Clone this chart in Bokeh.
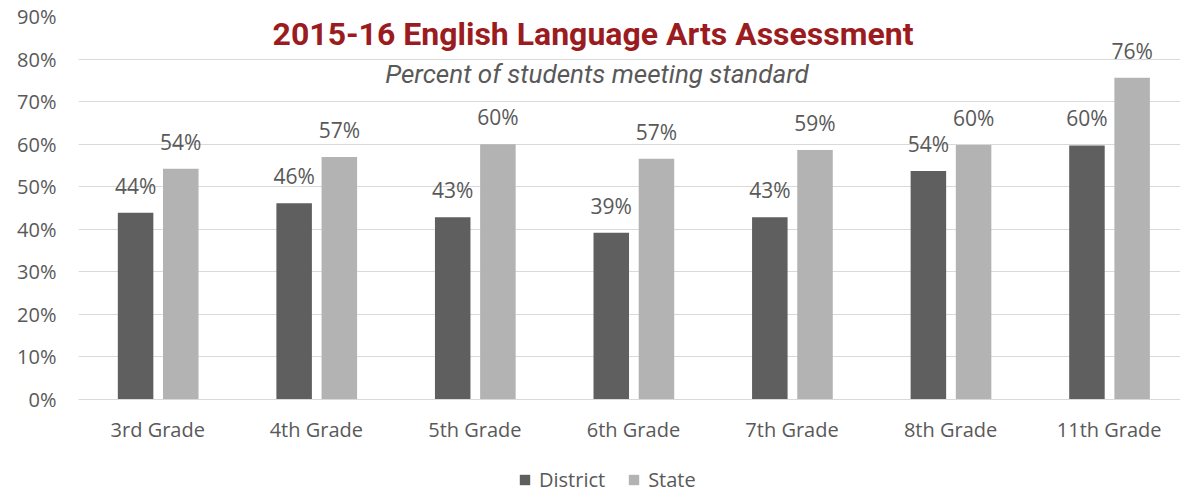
import numpy as np
from bokeh.plotting import figure
from bokeh.layouts import column
from bokeh.models import (ColumnDataSource, Range1d, FixedTicker, Label, Legend,
                          LegendItem)
from bokeh.transform import dodge
from bokeh.core.properties import value
from bokeh.embed import file_html
from bokeh.resources import INLINE

# ---- data ----
grades = ["3rd Grade", "4th Grade", "5th Grade", "6th Grade", "7th Grade", "8th Grade", "11th Grade"]
district = [43.9, 46.1, 42.8, 39.2, 42.8, 53.7, 59.7]
state = [54.2, 57.0, 60.0, 56.6, 58.6, 59.8, 75.6]
series_names = ["District", "State"]
y_ticks = [0, 10, 20, 30, 40, 50, 60, 70, 80, 90]
y_tick_labels = [f"{t}%" for t in y_ticks]
title_text = "2015-16  English Language Arts Assessment"
subtitle_text = "Percent of students meeting standard"

# ---- styles ----
C_DIST = "#5f5f5f"
C_STATE = "#b3b3b3"
C_TEXT = "#595959"
C_GRID = "#d9d9d9"
C_TITLE = "#9b1c20"
FONT = "Open Sans"

xpos = [i + 0.5 for i in range(len(grades))]
src = ColumnDataSource(dict(
    x=xpos,
    grade=grades,
    district=district,
    state=state,
    dlab=[f"{v:.0f}%" for v in district],
    slab=[f"{v:.0f}%" for v in state],
))

MAIN_H = 458
p = figure(width=1180, height=MAIN_H, output_backend="svg", toolbar_location=None,
           x_range=Range1d(0, 6.95), y_range=Range1d(0, 90),
           min_border_left=78, min_border_right=0, min_border_top=16,
           min_border_bottom=MAIN_H - 399)
p.outline_line_color = None
p.background_fill_color = "white"
p.border_fill_color = "white"

bw = 0.224
r_d = p.vbar(x=dodge("x", -0.14, range=p.x_range), top="district", width=bw, bottom=0,
             source=src, fill_color=C_DIST, line_color=None)
r_s = p.vbar(x=dodge("x", 0.145, range=p.x_range), top="state", width=bw, bottom=0,
             source=src, fill_color=C_STATE, line_color=None)

for col, lab, off in (("district", "dlab", -0.14), ("state", "slab", 0.145)):
    p.text(x=dodge("x", off, range=p.x_range), y=col, text=lab, source=src,
           y_offset=-27, text_align="center", text_baseline="alphabetic",
           text_font=value(FONT), text_font_size="21px", text_color=C_TEXT)

# axes
p.xaxis.ticker = FixedTicker(ticks=xpos)
p.xaxis.major_label_overrides = {x: g for x, g in zip(xpos, grades)}
p.xaxis.axis_line_color = C_GRID
p.xaxis.major_tick_line_color = None
p.xaxis.minor_tick_line_color = None
p.xaxis.major_label_standoff = 10
p.xaxis.major_label_text_font = FONT
p.xaxis.major_label_text_font_size = "20px"
p.xaxis.major_label_text_color = C_TEXT

p.yaxis.ticker = FixedTicker(ticks=y_ticks)
p.yaxis.major_label_overrides = {t: l for t, l in zip(y_ticks, y_tick_labels)}
p.yaxis.axis_line_color = None
p.yaxis.major_tick_line_color = None
p.yaxis.minor_tick_line_color = None
p.yaxis.major_tick_out = 0
p.yaxis.major_tick_in = 0
p.yaxis.major_label_standoff = 22
p.yaxis.major_label_text_font = FONT
p.yaxis.major_label_text_font_size = "20px"
p.yaxis.major_label_text_color = C_TEXT

p.xgrid.grid_line_color = None
p.ygrid.grid_line_color = C_GRID
p.ygrid.grid_line_width = 1

# titles
p.add_layout(Label(x=3.27, y=86.0, text=title_text, text_align="center",
                   text_baseline="alphabetic", text_font="Roboto", text_font_size="32px",
                   text_font_style="bold", text_color=C_TITLE))
p.add_layout(Label(x=3.27, y=76.6, text=subtitle_text, text_align="center",
                   text_baseline="alphabetic", text_font="Roboto", text_font_size="26px",
                   text_font_style="italic", text_color=C_TEXT))

# ---- legend strip below the chart ----
LEG_H = 493 - MAIN_H
lg = figure(width=1180, height=LEG_H, output_backend="svg", toolbar_location=None,
            x_range=Range1d(0, 1), y_range=Range1d(0, 1),
            min_border=0, min_border_left=0, min_border_right=0,
            min_border_top=0, min_border_bottom=0)
lg.outline_line_color = None
lg.axis.visible = False
lg.grid.visible = False
lg.background_fill_color = "white"
lg.border_fill_color = "white"
# off-range swatch sources (only used to draw the legend keys)
sw = ColumnDataSource(dict(x=[-5.0], top=[-5.0]))
ld = lg.vbar(x="x", top="top", width=0.1, bottom=-6.0, source=sw,
             fill_color=C_DIST, line_color=None)
ls = lg.vbar(x="x", top="top", width=0.1, bottom=-6.0, source=sw,
             fill_color=C_STATE, line_color=None)

legend = Legend(items=[LegendItem(label=series_names[0], renderers=[ld]),
                       LegendItem(label=series_names[1], renderers=[ls])],
                location=(440, 0), orientation="horizontal",
                glyph_width=13, glyph_height=13, label_standoff=8, spacing=22,
                padding=0, margin=0, border_line_color=None, background_fill_alpha=0,
                label_text_font=FONT, label_text_font_size="20px",
                label_text_color=C_TEXT, label_height=20)
lg.add_layout(legend)

layout = column(p, lg, spacing=0)
open("out.html", "w").write(file_html(layout, INLINE))
